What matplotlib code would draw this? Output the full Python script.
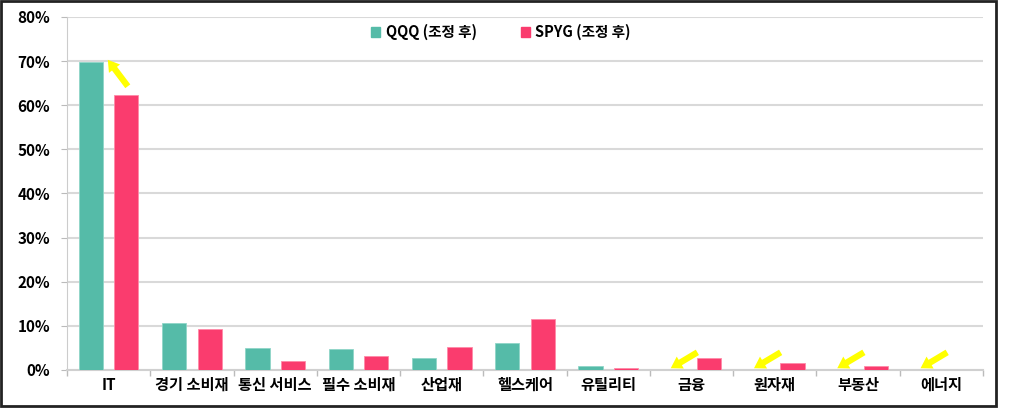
import matplotlib
matplotlib.use("Agg")
import matplotlib.pyplot as plt
import numpy as np
from matplotlib.patches import Patch, Rectangle

plt.rcParams['font.family'] = ['Noto Sans CJK KR', 'DejaVu Sans']
plt.rcParams['font.weight'] = 'heavy'

categories = ["IT", "경기 소비재", "통신 서비스", "필수 소비재", "산업재", "헬스케어",
              "유틸리티", "금융", "원자재", "부동산", "에너지"]
qqq = [69.8, 10.7, 5.0, 4.7, 2.7, 6.1, 0.9, 0.0, 0.0, 0.0, 0.0]
spyg = [62.4, 9.2, 2.1, 3.1, 5.2, 11.5, 0.5, 2.8, 1.5, 1.0, 0.0]
series_names = ["QQQ (조정 후)", "SPYG (조정 후)"]
yticks = [0, 10, 20, 30, 40, 50, 60, 70, 80]

# categories that carry a yellow arrow
arrow_cats = [0, 7, 8, 9, 10]

green = "#55BBA8"
pink = "#FA3C6E"
fw = 'heavy'

fig = plt.figure(figsize=(10.15, 4.16), dpi=100)
ax = fig.add_axes([67/1015, 1-370/416, (983-67)/1015, (370-17)/416])

x = np.arange(len(categories))
w = 0.29
off = 0.213
ax.bar(x - off, qqq, w, color=green, edgecolor="#8fd6c8", linewidth=0.6, zorder=3)
ax.bar(x + off, spyg, w, color=pink, edgecolor="#ff8aa8", linewidth=0.6, zorder=3)

ax.set_xlim(-0.5, len(categories) - 0.5)
ax.set_ylim(0, 80)
ax.set_yticks(yticks)
ax.set_yticklabels([f"{v}%" for v in yticks], fontsize=11, fontweight=fw)
ax.set_xticks(x)
ax.set_xticklabels(categories, fontsize=11, fontweight=fw)
ax.tick_params(axis='x', length=0, pad=5)
ax.tick_params(axis='y', length=4, color="#bbbbbb", pad=8)
ax.set_xticks(np.arange(len(categories) + 1) - 0.5, minor=True)
ax.tick_params(axis='x', which='minor', length=4, color="#bbbbbb", width=1)

ax.yaxis.grid(True, color="#d9d9d9", linewidth=1.5, zorder=0)
ax.set_axisbelow(True)
for s in ["top", "right"]:
    ax.spines[s].set_visible(False)
ax.spines["left"].set_color("#cccccc")
ax.spines["bottom"].set_color("#d0d0d0")
ax.spines["bottom"].set_linewidth(1.5)

heads = {0: (-0.01, 70.3, 0.23, 64.3)}
for c in arrow_cats[1:]:
    heads[c] = (-0.25, 0.4, 0.07, 4.0)
for c, (hx, hy, tx, ty) in heads.items():
    ax.annotate("", xy=(c + hx, hy), xytext=(c + tx, ty),
                arrowprops=dict(arrowstyle="simple,head_width=1.0,head_length=0.8,tail_width=0.45",
                                color="#FFFF00", lw=0, shrinkA=0, shrinkB=0),
                zorder=5, annotation_clip=False)

handles = [Patch(color=green), Patch(color=pink)]
ax.legend(handles, series_names, loc="center", bbox_to_anchor=(0.474, 0.957), ncol=2,
          frameon=False, handlelength=0.6, handleheight=0.6,
          handletextpad=0.4, columnspacing=3.0, prop={'weight': fw, 'size': 10.5})

fig.patches.append(Rectangle((1/1015, 1-406/416), 995/1015, 405/416, transform=fig.transFigure,
                             fill=False, edgecolor="#222222", linewidth=2))

fig.savefig("out.png", dpi=100)
